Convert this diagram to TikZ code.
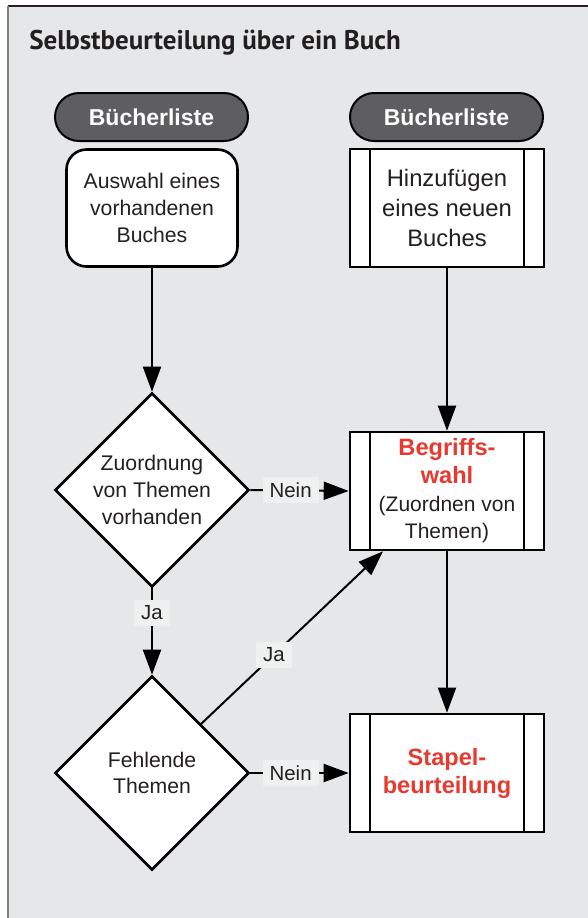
\documentclass[tikz,border=0pt]{standalone}
\usepackage{fontspec}
\setmainfont{Liberation Sans}
\newfontfamily\titlefont{PT Sans}
\usepackage{tikz}
\usetikzlibrary{arrows.meta,shapes.geometric}
\definecolor{panelgray}{HTML}{E6E7E9}
\definecolor{labelgray}{HTML}{EFF0F0}
\definecolor{pillgray}{HTML}{5E5E60}
\definecolor{hotred}{HTML}{E8392F}
\definecolor{inkdark}{HTML}{231F20}
\newcommand{\redline}[1]{{\fontsize{11.8}{14}\selectfont\bfseries\color{hotred}#1}}

\begin{document}
\begin{tikzpicture}[x=0.5pt,y=-0.5pt,>={Triangle[width=9pt,length=12.5pt]}]
\tikzstyle{pill}=[draw,line width=1pt,fill=pillgray,text=white,rounded corners=12pt,minimum width=96.5pt,minimum height=24pt,inner sep=0pt,font=\fontsize{11.5}{13}\selectfont\bfseries]
\tikzstyle{choosebox}=[draw,line width=1.3pt,fill=white,rounded corners=10pt,minimum width=85.5pt,minimum height=58.5pt,inner sep=0pt,align=center,text=inkdark,font=\fontsize{10.6}{13.5}\selectfont]
\tikzstyle{subproc}=[draw,line width=1.3pt,fill=white,minimum width=97pt,minimum height=59pt,inner sep=0pt,align=center,text=inkdark,font=\fontsize{11.9}{14.8}\selectfont,
  path picture={\draw[line width=1.3pt] ([xshift=10pt]path picture bounding box.north west) -- ([xshift=10pt]path picture bounding box.south west);
                \draw[line width=1.3pt] ([xshift=-10pt]path picture bounding box.north east) -- ([xshift=-10pt]path picture bounding box.south east);}]
\tikzstyle{decide}=[draw,line width=1.3pt,fill=white,diamond,aspect=1,minimum width=97pt,minimum height=97pt,inner sep=0pt,align=center,text=inkdark,font=\fontsize{10.6}{13.3}\selectfont]
\tikzstyle{answer}=[fill=labelgray,text=inkdark,inner xsep=3.5pt,inner ysep=0pt,minimum height=13pt,font=\fontsize{10.2}{12}\selectfont]
\tikzstyle{flow}=[->,line width=1pt]

% page and panel
\fill[white] (0,0) rectangle (588,918);
\useasboundingbox (0,0) rectangle (588,918);
\fill[panelgray] (8,6) rectangle (588,918);
\draw[line width=0.7pt,inkdark] (8,6) -- (588,6);
\draw[line width=0.6pt,gray] (8,6) -- (8,918);

\node[anchor=base west,inner sep=0pt,text=inkdark,font=\titlefont\fontsize{13.5}{16}\selectfont\bfseries] (title) at (29,49) {Selbstbeurteilung über ein Buch};

% two entry points
\node[pill] (listeL) at (151.5,117) {Bücherliste};
\node[pill] (listeR) at (446.5,117) {Bücherliste};
\node[choosebox] (auswahl) at (152,208) {Auswahl eines\\vorhandenen\\Buches};
\node[subproc] (neu) at (447,208) {Hinzufügen\\eines neuen\\Buches};

% decisions and sub processes
\node[decide] (zuord) at (152,490) {Zuordnung\\von Themen\\vorhanden};
\node[subproc,font=\fontsize{10.5}{13.8}\selectfont] (begriff) at (447,491) {\redline{Begriffs-}\\\redline{wahl}\\(Zuordnen von\\Themen)};
\node[decide] (fehlend) at (152,773) {Fehlende\\Themen};
\node[subproc,font=\fontsize{11.8}{14}\selectfont] (stapel) at (447,773) {\redline{Stapel-}\\\redline{beurteilung}};

\draw[flow] (auswahl.south) -- (zuord.north);
\draw[flow] (neu.south) -- (begriff.north);
\draw[flow] (zuord.east) -- node[answer,pos=0.41]{Nein} (begriff.west);
\draw[flow] (zuord.south) -- node[answer,pos=0.28]{Ja} (fehlend.north);
\draw[flow] (fehlend.east) -- node[answer,pos=0.41]{Nein} (stapel.west);
\draw[flow] (fehlend.north east) -- node[answer,pos=0.4]{Ja} ([xshift=-32pt]begriff.south);
\draw[flow] (begriff.south) -- (stapel.north);
\end{tikzpicture}
\end{document}
